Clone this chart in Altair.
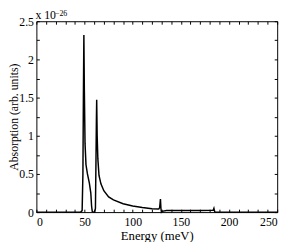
import altair as alt
import pandas as pd

energy = [0, 46, 47.5, 48.3, 48.8, 49.3, 49.8, 50.5, 51.5, 53, 55, 56.5, 57.3, 58, 59,
          60.5, 61.3, 61.8, 62.3, 62.6, 63.1, 63.8, 65, 67, 70, 75, 80, 90, 100, 110,
          120, 127, 128, 128.8, 129.3, 129.8, 130.5, 135, 150, 170, 183.5, 184.3, 184.8,
          185.3, 200, 250]
absorb = [0, 0, 0.02, 0.5, 1.5, 2.32, 1.6, 0.9, 0.62, 0.5, 0.38, 0.25, 0.08, 0.01, 0,
          0, 0.05, 0.6, 1.2, 1.47, 1.0, 0.7, 0.48, 0.37, 0.28, 0.2, 0.16, 0.11, 0.08, 0.06,
          0.045, 0.04, 0.06, 0.17, 0.05, 0.0, 0.01, 0.02, 0.02, 0.02, 0.025, 0.05, 0.02,
          0, 0, 0]

x_ticks = list(range(0, 251, 10))
y_ticks = [i * 0.25 for i in range(11)]

df = pd.DataFrame({"E": energy, "A": absorb})
FONT = "Liberation Serif"
PAD_L = 29

xs = alt.Scale(domain=[0, 250], nice=False)
ys = alt.Scale(domain=[0, 2.5], nice=False)

main = alt.Chart(df).mark_line(color="black", strokeWidth=1.5).encode(
    x=alt.X("E:Q", scale=xs, axis=alt.Axis(
        orient="bottom", values=x_ticks, title="Energy (meV)",
        labelExpr="datum.value % 50 == 0 ? datum.label : ''",
        tickSize=3, offset=-3, domain=False, labelPadding=5, labelOverlap=False,
        titlePadding=2, grid=False)),
    y=alt.Y("A:Q", scale=ys, axis=alt.Axis(
        orient="left", values=y_ticks, title="Absorption (arb. units)", format="~g",
        labelExpr="(round(datum.value*100) % 50 == 0) ? datum.label : ''",
        tickSize=3, offset=-3, domain=False, labelPadding=3, labelOverlap=False,
        titleX=1 - PAD_L - 3, titleBaseline="top", titleFontSize=12, grid=False)),
)

mirror = alt.Chart(df).mark_line(opacity=0).encode(
    x=alt.X("E:Q", scale=xs, axis=alt.Axis(
        orient="top", values=x_ticks, labels=False, title=None,
        tickSize=3, offset=-3, domain=False, grid=False)),
    y=alt.Y("A:Q", scale=ys, axis=alt.Axis(
        orient="right", values=y_ticks, labels=False, title=None,
        tickSize=3, offset=-3, domain=False, grid=False)),
)

mult = alt.Chart(pd.DataFrame({"t": ["x 10"]})).mark_text(
    font=FONT, fontSize=12, align="left", baseline="middle", color="black"
).encode(text="t:N", x=alt.value(-1), y=alt.value(-6))
expo = alt.Chart(pd.DataFrame({"t": ["\u221226"]})).mark_text(
    font=FONT, fontSize=8, align="left", baseline="top", color="black"
).encode(text="t:N", x=alt.value(19), y=alt.value(-11))

chart = alt.layer(main, mirror, mult, expo).resolve_axis(
    x="independent", y="independent"
).properties(
    width=246, height=195,
    autosize=alt.AutoSizeParams(type="none"),
    padding={"left": PAD_L, "top": 11, "right": 9, "bottom": 28},
    background="white",
).configure_view(stroke="black", strokeWidth=1).configure_axis(
    labelFont=FONT, titleFont=FONT, labelFontSize=12, titleFontSize=13,
    titleFontWeight="normal", labelColor="black", titleColor="black", tickColor="black"
)

chart.save("out.html", embed_options={"renderer": "svg", "actions": False})
